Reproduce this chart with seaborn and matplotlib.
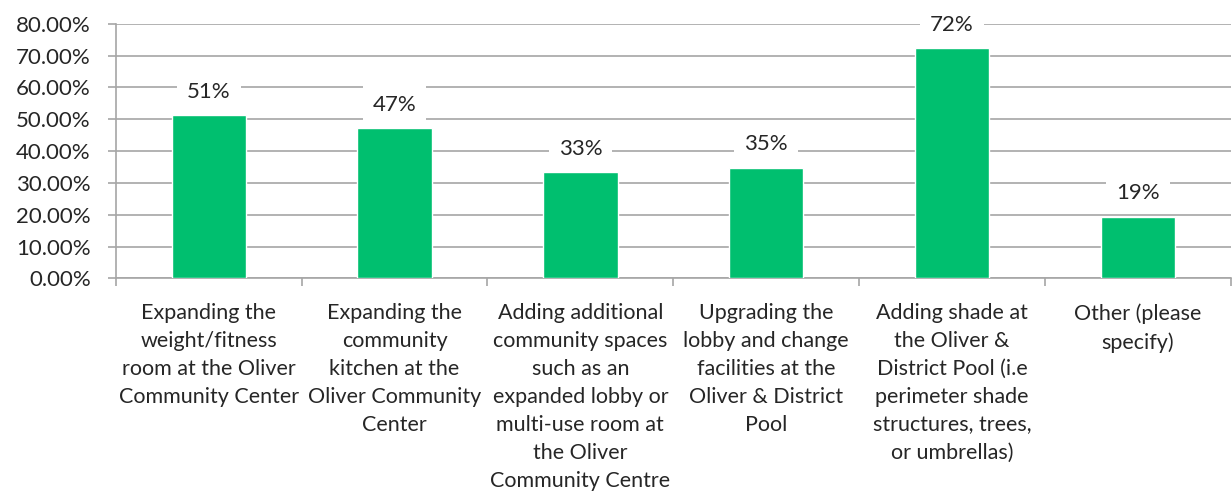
import matplotlib.pyplot as plt
import pandas as pd
import seaborn as sns
from matplotlib.ticker import FixedLocator, PercentFormatter

categories = [
    "Expanding the\nweight/fitness\nroom at the Oliver\nCommunity Center",
    "Expanding the\ncommunity\nkitchen at the\nOliver Community\nCenter",
    "Adding additional\ncommunity spaces\nsuch as an\nexpanded lobby or\nmulti-use room at\nthe Oliver\nCommunity Centre",
    "Upgrading the\nlobby and change\nfacilities at the\nOliver & District\nPool",
    "Adding shade at\nthe Oliver &\nDistrict Pool (i.e\nperimeter shade\nstructures, trees,\nor umbrellas)",
    "Other (please\nspecify)",
]
values = [51.3, 47.2, 33.3, 34.8, 72.3, 19.3]
labels = ["51%", "47%", "33%", "35%", "72%", "19%"]

df = pd.DataFrame({"category": categories, "value": values})

sns.set_style("white")
plt.rcParams["font.family"] = ["Lato", "DejaVu Sans"]

fig, ax = plt.subplots(figsize=(12.32, 4.97), dpi=100)
fig.subplots_adjust(left=0.094, right=0.999, top=0.952, bottom=0.44)

sns.barplot(data=df, x="category", y="value", color="#00BF6F", width=0.4,
            saturation=1, ax=ax, zorder=3)

ax.set_ylim(0, 80)
ax.set_xlim(-0.5, len(categories) - 0.5)
ax.yaxis.set_major_locator(FixedLocator(range(0, 81, 10)))
ax.yaxis.set_major_formatter(PercentFormatter(decimals=2))
ax.grid(axis="y", color="#a6a6a6", linewidth=1.2, zorder=0)
ax.set_axisbelow(True)

for s in ["top", "right"]:
    ax.spines[s].set_visible(False)
for s in ["left", "bottom"]:
    ax.spines[s].set_color("#a6a6a6")
    ax.spines[s].set_linewidth(1.2)

ax.set_xlabel("")
ax.set_ylabel("")
ax.tick_params(axis="y", which="major", left=True, length=6, width=1.2,
               color="#a6a6a6", labelsize=16, pad=12)
ax.tick_params(axis="x", which="major", length=0, labelsize=15.5, pad=18)
ax.set_xticks([i - 0.5 for i in range(len(categories) + 1)], minor=True)
ax.tick_params(axis="x", which="minor", bottom=True, length=6, color="#a6a6a6",
               width=1.2)

for i, (v, lab) in enumerate(zip(values, labels)):
    ax.annotate(lab, (i, v), xytext=(0, 17), textcoords="offset points",
                ha="center", va="center", fontsize=16, zorder=4,
                bbox=dict(boxstyle="square,pad=0.45", fc="white", ec="none"))

fig.canvas.draw()
for t in ax.get_xticklabels():
    t.set_ha("center")
    t.set_multialignment("center")
    t.set_linespacing(1.5)

fig.savefig("out.png", dpi=100)
